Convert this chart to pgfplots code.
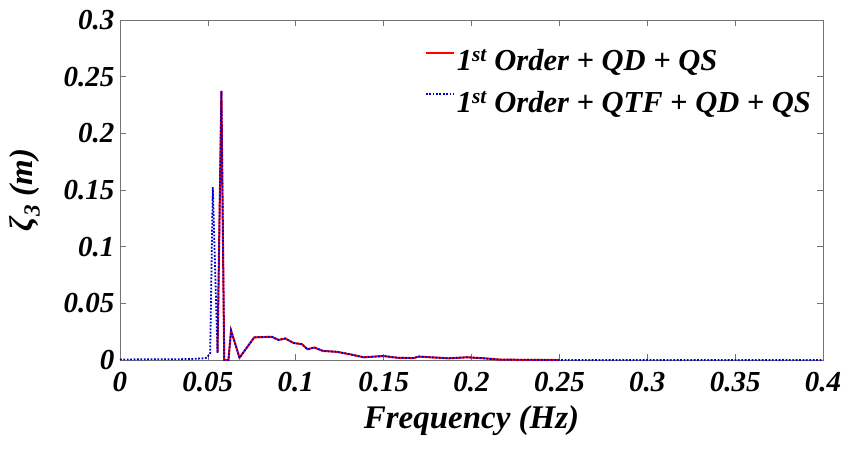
\documentclass[border=0pt]{standalone}
\usepackage{pgfplots}
\pgfplotsset{compat=1.18}
\usepackage{fontspec}
\setmainfont{Liberation Serif}
\begin{document}
\begin{tikzpicture}[x=1pt,y=1pt]
\begin{axis}[
  at={(0pt,0pt)}, anchor=south west,
  scale only axis,
  width=703pt, height=340pt,
  xmin=0, xmax=0.4, ymin=0, ymax=0.3,
  xtick={0,0.05,...,0.4}, ytick={0,0.05,...,0.3},
  xticklabels={0,0.05,0.1,0.15,0.2,0.25,0.3,0.35,0.4},
  yticklabels={0,0.05,0.1,0.15,0.2,0.25,0.3},
  tick align=inside,
  major tick length=6pt,
  axis line style={black!55, line width=0.7pt},
  tick style={black!55, line width=0.7pt},
  ticklabel style={font=\fontsize{29}{30}\selectfont\bfseries\itshape, black},
  xticklabel style={yshift=-9pt},
  yticklabel style={xshift=-2pt},
  /pgf/number format/assume math mode=true,
  xlabel={\fontsize{33}{35}\selectfont\bfseries\itshape Frequency (Hz)},
  ylabel={\fontsize{33}{35}\selectfont\bfseries\itshape ζ\textsubscript{3} (m)},
  xlabel style={at={(axis description cs:0.5,0)}, anchor=base, yshift=-68pt},
  ylabel style={at={(axis description cs:0,0.5)}, anchor=base, yshift=87pt},
  legend style={draw=none, fill=none, at={(0.986,0.92)}, anchor=north east,
    inner sep=0pt,
    font=\fontsize{30.5}{32}\selectfont\bfseries\itshape, row sep=15pt,
    legend cell align=left, nodes={inner xsep=2pt}},
  legend image code/.code={\draw[#1] (0pt,8pt) -- (28pt,8pt);},
]
\addplot[red, line width=2pt] coordinates {
(0.0555,0.007) (0.0577,0.2375) (0.0593,0.0) (0.0617,0.0) (0.0632,0.026)
(0.068,0.002) (0.0764,0.020) (0.0864,0.0205) (0.0902,0.0177) (0.094,0.019)
(0.0988,0.015) (0.1035,0.014) (0.1067,0.0095) (0.1105,0.011) (0.1155,0.008)
(0.1235,0.0072) (0.131,0.005) (0.1387,0.0024) (0.150,0.0035) (0.1577,0.002)
(0.167,0.0017) (0.170,0.003) (0.1757,0.0025) (0.187,0.0015) (0.1976,0.0024)
(0.207,0.0015) (0.2165,0.0003) (0.2496,0.0)
};
\addlegendentry{1\textsuperscript{st} Order + QD + QS}
\addplot[blue!80!black, line width=1.8pt, dash pattern=on 1.8pt off 1.6pt] coordinates {
(0,0.0005) (0.02,0.0006) (0.04,0.0008) (0.0475,0.0015) (0.0494,0.002) (0.0513,0.006)
(0.0528,0.1525) (0.0555,0.006) (0.0577,0.2375) (0.0593,0.0) (0.0617,0.0) (0.0632,0.026)
(0.068,0.002) (0.0764,0.020) (0.0864,0.0205) (0.0902,0.0177) (0.094,0.019)
(0.0988,0.015) (0.1035,0.014) (0.1067,0.0095) (0.1105,0.011) (0.1155,0.008)
(0.1235,0.0072) (0.131,0.005) (0.1387,0.0024) (0.150,0.0035) (0.1577,0.002)
(0.167,0.0017) (0.170,0.003) (0.1757,0.0025) (0.187,0.0015) (0.1976,0.0024)
(0.207,0.0015) (0.2165,0.0003) (0.2496,0.0) (0.3,0.0) (0.35,0.0) (0.4,0.0)
};
\addlegendentry{1\textsuperscript{st} Order + QTF + QD + QS}
\end{axis}
\pgfresetboundingbox
\path[use as bounding box] (-120pt,-88pt) rectangle (726pt,360pt);
\end{tikzpicture}
\end{document}
